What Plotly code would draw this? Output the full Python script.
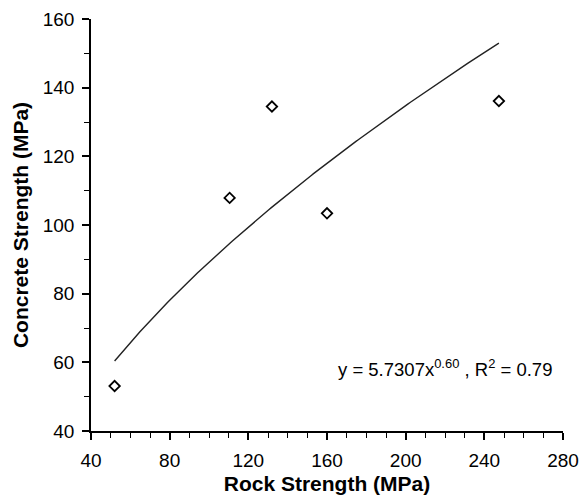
import numpy as np
import plotly.graph_objects as go

# Measured strengths (MPa)
rock_strength = [52, 110.5, 132, 160, 247.4]
concrete_strength = [53.1, 107.9, 134.5, 103.4, 136.1]

# Power-law trend: y = a * x^b
FIT_A = 5.7307
FIT_B = 0.596
R2 = 0.79

x_fit = np.linspace(min(rock_strength), max(rock_strength), 200)
y_fit = FIT_A * x_fit ** FIT_B

font_family = "Liberation Sans, Arial, sans-serif"

fig = go.Figure()
fig.add_trace(go.Scatter(
    x=x_fit, y=y_fit, mode="lines",
    line=dict(color="#222222", width=1.4),
    showlegend=False, hoverinfo="skip",
))
fig.add_trace(go.Scatter(
    x=rock_strength, y=concrete_strength, mode="markers",
    marker=dict(symbol="diamond-open", size=8, color="black",
                line=dict(color="black", width=1.8)),
    showlegend=False,
))

fig.add_annotation(
    x=220, y=58.3, xref="x", yref="y",
    text=f"y = {FIT_A:.4f}x<sup>{FIT_B:.2f}</sup> , R<sup>2</sup> = {R2:.2f}",
    showarrow=False,
    font=dict(family=font_family, size=18.5, color="black"),
)

axis_common = dict(
    showgrid=False, zeroline=False, automargin=False,
    showline=True, linecolor="black", linewidth=1.5,
    ticks="outside", ticklen=7, tickwidth=1.5, tickcolor="black",
    tickfont=dict(family=font_family, size=19, color="black"),
    minor=dict(ticks="outside", ticklen=5, tickwidth=1.2, tickcolor="black", dtick=10),
)

fig.update_xaxes(
    range=[40, 280], dtick=40, tick0=40, ticklabelstandoff=4,
    title=dict(text="<b>Rock Strength (MPa)</b>", standoff=8,
               font=dict(family=font_family, size=21, color="black")),
    **axis_common,
)
fig.update_yaxes(
    range=[40, 160], dtick=20, tick0=40, ticklabelstandoff=4,
    title=dict(text="<b>Concrete Strength (MPa)</b>", standoff=8,
               font=dict(family=font_family, size=21, color="black")),
    **axis_common,
)

fig.update_layout(
    width=579, height=495,
    margin=dict(l=91, r=16, t=19, b=64),
    paper_bgcolor="white", plot_bgcolor="white",
)

fig.write_html("out.html")
